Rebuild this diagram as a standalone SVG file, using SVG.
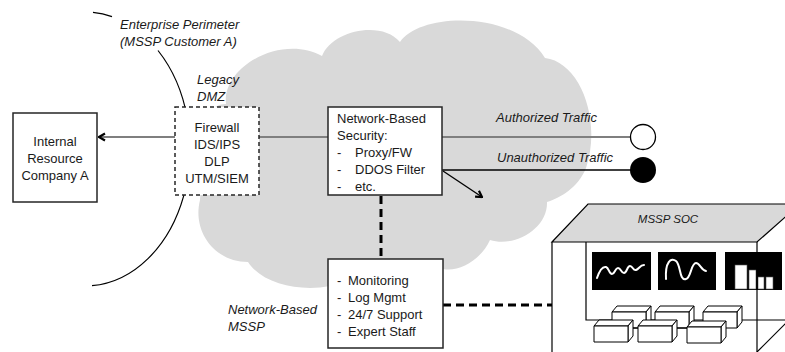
<svg xmlns="http://www.w3.org/2000/svg" width="785" height="352" viewBox="0 0 785 352">
  <defs>
    <style>
      text { font-family: "Liberation Sans", Arial, sans-serif; font-size: 13px; fill: #1a1a1a; }
      .it { font-style: italic; }
      .mid { text-anchor: middle; }
      .box { fill: #fff; stroke: #262626; stroke-width: 1.5; }
      .dmz { fill: #fff; stroke: #262626; stroke-width: 1.5; stroke-dasharray: 4 3; }
      .link { stroke: #7f7f7f; stroke-width: 2; fill: none; }
      .thin { stroke: #000; stroke-width: 1.3; fill: none; }
      .heavy { stroke: #000; stroke-width: 3; stroke-dasharray: 8 5; fill: none; }
      .edge { stroke: #000; stroke-width: 1.2; fill: none; }
      .desk { fill: #fff; stroke: #000; stroke-width: 1; stroke-linejoin: round; }
      .screen { fill: #000; }
      .trace { fill: none; stroke: #fff; stroke-width: 2; stroke-linecap: round; stroke-linejoin: round; }
    </style>
    <marker id="chev" viewBox="0 0 10 10" refX="9" refY="5" markerWidth="10" markerHeight="10" markerUnits="userSpaceOnUse" orient="auto">
      <path d="M3 1.5 L9 5 L3 8.5" fill="none" stroke="#000" stroke-width="2.2"/>
    </marker>
    <!-- one workstation: front face at origin, top and right faces drawn in oblique -->
    <g id="desk-shape">
      <path class="desk" d="M0 0 L5 -6 L39 -6 L34 0 Z"/>
      <path class="desk" d="M34 0 L39 -6 L39 10 L34 16 Z"/>
      <rect class="desk" x="0" y="0" width="34" height="16"/>
    </g>
  </defs>

  <!-- provider cloud -->
  <g id="cloud">
    <path fill="#d9d9d9" d="M 226 104
      C 222 66, 282 34, 322 56
      C 332 30, 382 20, 400 42
      C 420 12, 515 10, 545 58
      C 580 62, 602 120, 586 168
      C 578 188, 560 198, 547 202
      C 548 228, 515 248, 490 240
      C 480 262, 455 274, 440 268
      L 440 290 L 330 286
      C 300 292, 262 284, 248 262
      C 215 262, 192 232, 200 200
      L 205 120
      C 210 108, 218 104, 226 104 Z"/>
  </g>

  <!-- enterprise perimeter boundary -->
  <g id="perimeter">
    <path class="edge" d="M 93 12.4 A 105 137 0 0 1 112 16.6"/>
    <path class="edge" d="M 158 50.5 A 105 137 0 0 1 92 285.7"/>
    <text class="it" x="120" y="29">Enterprise Perimeter</text>
    <text class="it" x="120" y="46">(MSSP Customer A)</text>
  </g>

  <g id="connectors">
    <line class="link" x1="175" y1="137" x2="99" y2="137" marker-end="url(#chev)"/>
    <line class="link" x1="259" y1="137" x2="328" y2="137"/>
    <line class="link" x1="442" y1="137" x2="630.5" y2="137"/>
    <line class="thin" x1="442" y1="170" x2="631" y2="170" stroke-width="1.6"/>
    <line class="thin" x1="443" y1="171" x2="482" y2="197" marker-end="url(#chev)"/>
    <line class="heavy" x1="381" y1="196" x2="381" y2="259"/>
    <line class="heavy" x1="443" y1="305" x2="552" y2="305" stroke-width="2.6"/>
  </g>

  <g id="internal-resource">
    <rect class="box" x="13" y="113" width="84" height="89"/>
    <text class="mid" x="55" y="146">Internal</text>
    <text class="mid" x="55" y="163">Resource</text>
    <text class="mid" x="55" y="180">Company A</text>
  </g>

  <g id="legacy-dmz">
    <text class="it" x="197" y="84">Legacy</text>
    <text class="it" x="197" y="101">DMZ</text>
    <rect class="dmz" x="175" y="107" width="84" height="88"/>
    <text class="mid" x="217" y="132">Firewall</text>
    <text class="mid" x="217" y="149">IDS/IPS</text>
    <text class="mid" x="217" y="166">DLP</text>
    <text class="mid" x="217" y="183">UTM/SIEM</text>
  </g>

  <g id="network-security">
    <rect class="box" x="328" y="107" width="114" height="88"/>
    <text x="337" y="123">Network-Based</text>
    <text x="337" y="140">Security:</text>
    <text x="337" y="157">-</text><text x="355" y="157">Proxy/FW</text>
    <text x="337" y="174">-</text><text x="355" y="174">DDOS Filter</text>
    <text x="337" y="191">-</text><text x="355" y="191">etc.</text>
  </g>

  <g id="authorized-traffic">
    <text class="it" x="496" y="122">Authorized Traffic</text>
    <circle cx="643" cy="137" r="12.5" fill="#fff" stroke="#000" stroke-width="1.3"/>
  </g>

  <g id="unauthorized-traffic">
    <text class="it" x="497" y="162">Unauthorized Traffic</text>
    <circle cx="643" cy="170" r="13" fill="#000"/>
  </g>

  <g id="mssp-services">
    <rect class="box" x="328" y="259" width="115" height="89"/>
    <text x="337" y="285">-</text><text x="348" y="285">Monitoring</text>
    <text x="337" y="302">-</text><text x="348" y="302">Log Mgmt</text>
    <text x="337" y="319">-</text><text x="348" y="319">24/7 Support</text>
    <text x="337" y="336">-</text><text x="348" y="336">Expert Staff</text>
    <text class="it" x="228" y="314">Network-Based</text>
    <text class="it" x="228" y="331">MSSP</text>
  </g>

  <!-- security operations centre, drawn as an open box -->
  <g id="mssp-soc">
    <rect x="552" y="242" width="205" height="115" fill="#fff"/>
    <polygon points="552,242 588,204 800,204 757,242" fill="#d9d9d9" stroke="#000" stroke-width="1.2"/>
    <text class="it mid" x="668" y="223" style="font-size:11.5px">MSSP SOC</text>
    <line class="edge" x1="552" y1="242" x2="552" y2="352"/>
    <polyline class="edge" points="586,242 586,320 792,320"/>
    <line class="edge" x1="757" y1="352" x2="789" y2="320"/>

    <rect class="screen" x="592" y="252" width="59" height="38"/>
    <rect class="screen" x="658" y="252" width="58" height="38"/>
    <rect class="screen" x="725" y="252" width="57" height="38"/>
    <path class="trace" d="M597 278 C599 272, 602 266, 606 267 C609 268, 609 274, 612 274 C615 274, 615 268, 618 268 C621 268, 621 273, 624 273 C627 273, 627 266, 630 266 C633 266, 633 271, 636 270 C639 269, 640 265, 644 265"/>
    <path class="trace" d="M666 279 C665 262, 671 257, 676 261 C681 265, 679 281, 686 279 C691 278, 691 263, 696 263 C700 263, 701 270, 706 271"/>
    <g fill="#fff" stroke="#555" stroke-width="0.6">
      <rect x="735" y="265" width="12" height="24"/>
      <rect x="749" y="270" width="7" height="19"/>
      <rect x="758" y="277" width="6" height="12"/>
      <rect x="766" y="277" width="7" height="12"/>
    </g>

    <use href="#desk-shape" x="612" y="312"/>
    <use href="#desk-shape" x="655" y="312"/>
    <use href="#desk-shape" x="703" y="312"/>
    <line class="edge" x1="633" y1="328" x2="638" y2="328" stroke-width="1"/>
    <line class="edge" x1="677" y1="328" x2="687" y2="328" stroke-width="1"/>
    <use href="#desk-shape" x="594" y="326"/>
    <use href="#desk-shape" x="638" y="326"/>
    <use href="#desk-shape" x="687" y="327"/>

    <line class="edge" x1="757" y1="242" x2="757" y2="352"/>
  </g>
</svg>
